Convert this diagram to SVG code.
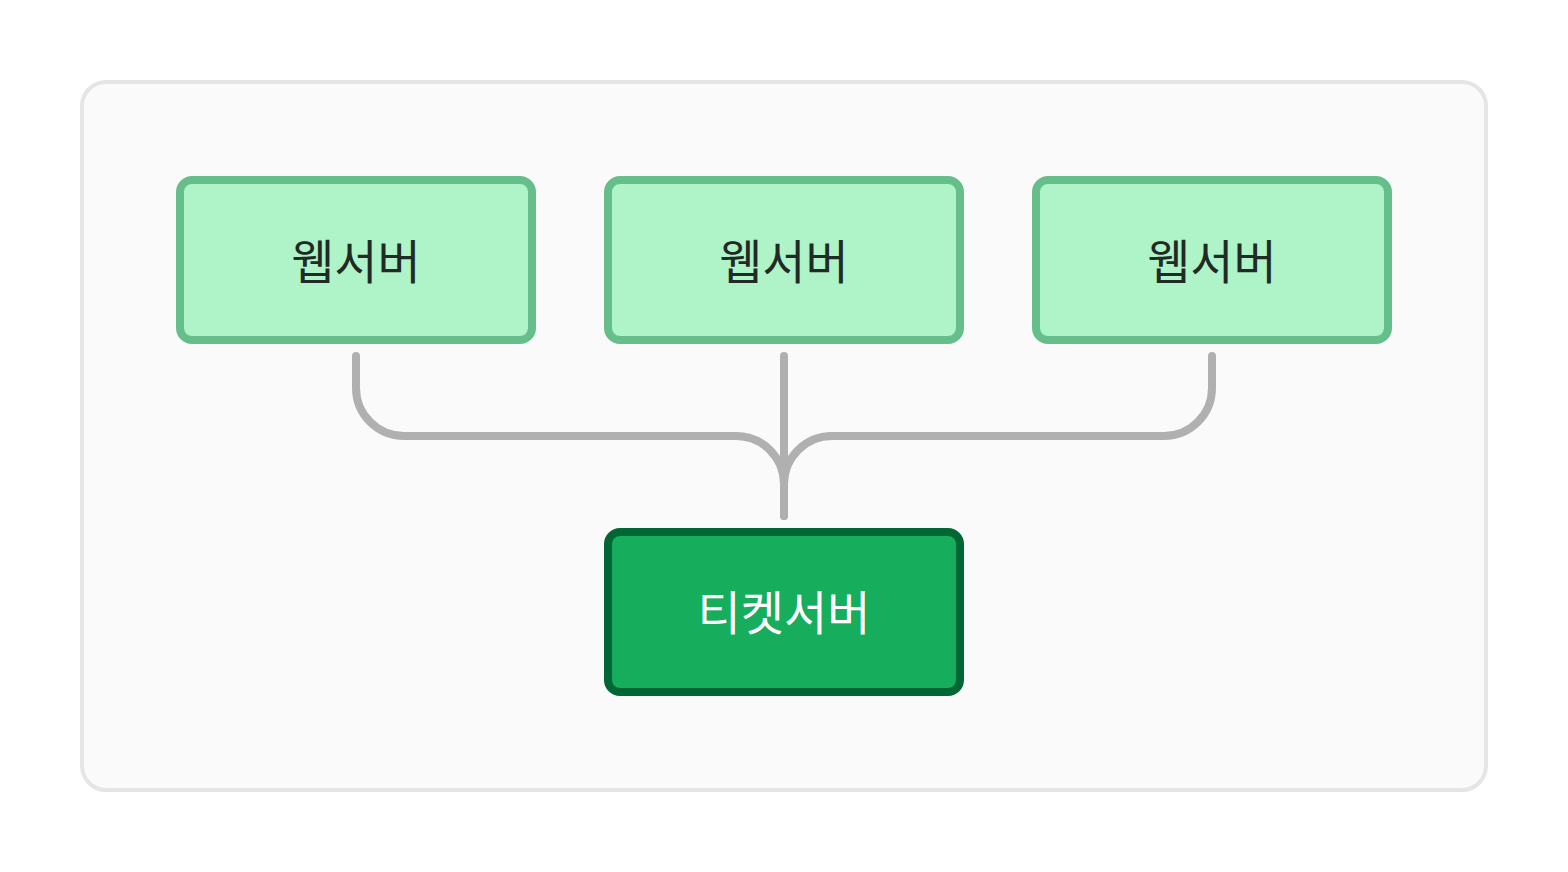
<svg xmlns="http://www.w3.org/2000/svg" width="1568" height="872" viewBox="0 0 1568 872">
<style>
.web rect{fill:#aef4c8;stroke:#66bf8a;stroke-width:8}
.web text{fill:#1f2b24}
.ticket rect{fill:#16ae5c;stroke:#006633;stroke-width:8}
.ticket text{fill:#ffffff}
text{font-family:"Noto Sans CJK KR","Noto Sans",sans-serif;font-size:47px;text-anchor:middle;dominant-baseline:central}
#connectors path{fill:none;stroke:#b0b0b0;stroke-width:8;stroke-linecap:round}
</style>
<rect width="1568" height="872" fill="#ffffff"/>
<g id="container"><rect x="82" y="82" width="1404" height="708" rx="24" fill="#fafafa" stroke="#e5e5e5" stroke-width="4"/></g>
<g id="connectors">
<path d="M356 356 V388 A48 48 0 0 0 404 436 H736 A48 48 0 0 1 784 484 V516"/>
<path d="M784 356 V516"/>
<path d="M1212 356 V388 A48 48 0 0 1 1164 436 H832 A48 48 0 0 0 784 484"/>
</g>
<g id="web1" class="web"><rect x="180" y="180" width="352" height="160" rx="12"/><text x="356" y="258">웹서버</text></g>
<g id="web2" class="web"><rect x="608" y="180" width="352" height="160" rx="12"/><text x="784" y="258">웹서버</text></g>
<g id="web3" class="web"><rect x="1036" y="180" width="352" height="160" rx="12"/><text x="1212" y="258">웹서버</text></g>
<g id="ticket" class="ticket"><rect x="608" y="532" width="352" height="160" rx="12"/><text x="784" y="609">티켓서버</text></g>
</svg>
